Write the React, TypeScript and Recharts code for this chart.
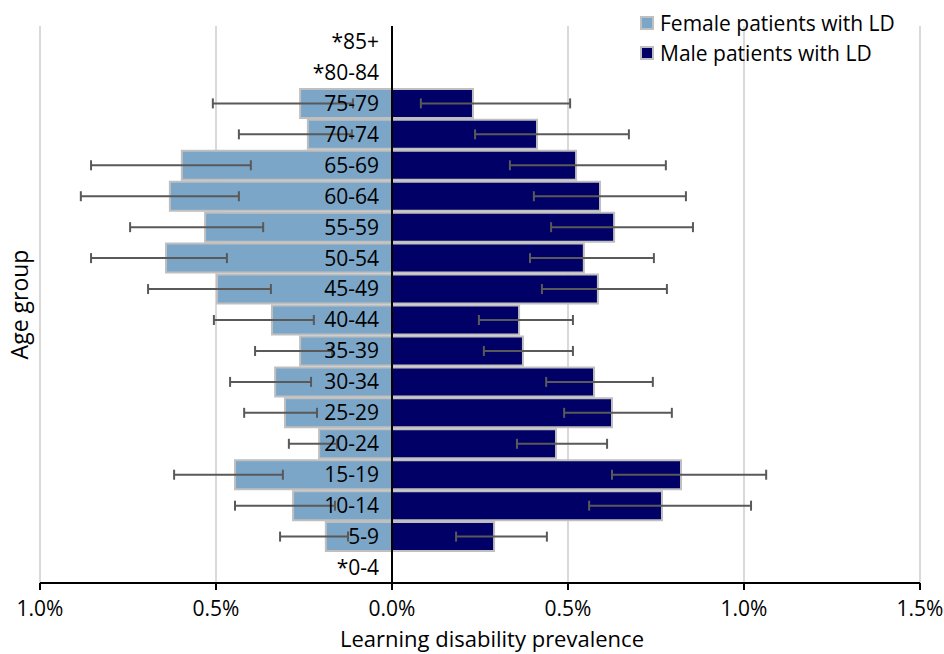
import { BarChart, Bar, XAxis, YAxis, CartesianGrid, Legend, ErrorBar, ReferenceLine, ReferenceDot } from 'recharts'

// age bands, bottom to top
const ageGroups = ['*0-4', '5-9', '10-14', '15-19', '20-24', '25-29', '30-34', '35-39', '40-44', '45-49', '50-54', '55-59', '60-64', '65-69', '70-74', '75-79', '*80-84', '*85+']

// prevalence in %, with 95% CI bounds
const femaleRate = [0, 0.188, 0.281, 0.446, 0.207, 0.304, 0.332, 0.261, 0.341, 0.497, 0.642, 0.531, 0.631, 0.597, 0.239, 0.261, 0, 0]
const femaleLower = [0, 0.125, 0.162, 0.31, 0.156, 0.213, 0.23, 0.17, 0.222, 0.344, 0.469, 0.366, 0.435, 0.401, 0.114, 0.111, 0, 0]
const femaleUpper = [0, 0.318, 0.446, 0.619, 0.293, 0.42, 0.46, 0.389, 0.506, 0.693, 0.855, 0.744, 0.884, 0.855, 0.435, 0.509, 0, 0]

const maleRate = [0, 0.29, 0.767, 0.821, 0.466, 0.625, 0.574, 0.372, 0.361, 0.585, 0.545, 0.631, 0.591, 0.523, 0.412, 0.23, 0, 0]
const maleLower = [0, 0.182, 0.56, 0.625, 0.355, 0.489, 0.438, 0.261, 0.247, 0.426, 0.392, 0.452, 0.403, 0.335, 0.236, 0.082, 0, 0]
const maleUpper = [0, 0.44, 1.02, 1.063, 0.611, 0.795, 0.741, 0.514, 0.514, 0.781, 0.744, 0.855, 0.835, 0.778, 0.673, 0.506, 0, 0]

const xTicks = [-1, -0.5, 0, 0.5, 1, 1.5]

const FONT = "'Open Sans', sans-serif"

const data = ageGroups.map((age, i) => {
    const f = femaleRate[i]
    const m = maleRate[i]
    return {
        age,
        female: -f,
        male: m,
        // female drawn on the negative side: [towards outer bound, towards inner bound]
        femaleErr: f > 0 ? [femaleUpper[i] - f, f - femaleLower[i]] : null,
        maleErr: m > 0 ? [m - maleLower[i], maleUpper[i] - m] : null,
    }
})

const renderLegend = (props: any) => {
    const { payload } = props
    return (
        <div style={{ fontFamily: FONT, fontSize: 21, color: '#000', lineHeight: '30px' }}>
            {payload.map((entry: any) => (
                <div key={entry.value} style={{ display: 'flex', alignItems: 'center', whiteSpace: 'nowrap' }}>
                    <span
                        style={{
                            display: 'inline-block',
                            width: 10,
                            height: 10,
                            background: entry.color,
                            border: '2px solid #BFBFBF',
                            marginRight: 6,
                        }}
                    />
                    {entry.value}
                </div>
            ))}
        </div>
    )
}

export default function App() {
    return (
        <div style={{ position: 'absolute', left: 0, top: 0, background: '#fff' }}>
            <BarChart
                width={944}
                height={654}
                data={data}
                layout="vertical"
                margin={{ top: 26, right: 24, left: 0, bottom: 0 }}
                barSize={29}
                barGap={-29}
            >
                <CartesianGrid horizontal={false} stroke="#D9D9D9" strokeWidth={2} />
                <XAxis
                    type="number"
                    domain={[-1, 1.5]}
                    ticks={xTicks}
                    tickFormatter={(v: number) => Math.abs(v).toFixed(1) + '%'}
                    axisLine={{ stroke: '#000', strokeWidth: 2 }}
                    tickLine={{ stroke: '#000', strokeWidth: 2 }}
                    tickSize={7}
                    tickMargin={11}
                    tick={{ fill: '#000', fontSize: 21, fontFamily: FONT }}
                    height={71}
                    label={{ value: 'Learning disability prevalence', position: 'insideBottom', offset: 7, dx: 12, fill: '#000', fontSize: 22, fontFamily: FONT }}
                />
                <YAxis
                    type="category"
                    dataKey="age"
                    reversed
                    width={40}
                    tick={false}
                    axisLine={false}
                    tickLine={false}
                    label={{ value: 'Age group', angle: -90, position: 'center', fill: '#000', fontSize: 23, fontFamily: FONT }}
                />
                <Legend
                    layout="vertical"
                    align="center"
                    verticalAlign="middle"
                    content={renderLegend}
                    wrapperStyle={{ top: 8, left: 640, width: 300 }}
                />
                <Bar dataKey="female" name="Female patients with LD" fill="#7BA6C8" stroke="#BFBFBF" strokeWidth={2} isAnimationActive={false}>
                    <ErrorBar dataKey="femaleErr" direction="x" width={5} stroke="#595959" strokeWidth={2} />
                </Bar>
                <Bar dataKey="male" name="Male patients with LD" fill="#000066" stroke="#BFBFBF" strokeWidth={2} isAnimationActive={false}>
                    <ErrorBar dataKey="maleErr" direction="x" width={5} stroke="#595959" strokeWidth={2} />
                </Bar>
                <ReferenceLine x={0} stroke="#000" strokeWidth={2} />
                {/* category names sit on the zero line, like the Excel axis labels */}
                {ageGroups.map((age) => (
                    <ReferenceDot
                        key={age}
                        x={0}
                        y={age}
                        r={0}
                        fill="none"
                        stroke="none"
                        label={{ value: age, position: 'left', offset: 13, fill: '#000', fontSize: 21, fontFamily: FONT }}
                    />
                ))}
            </BarChart>
        </div>
    )
}
